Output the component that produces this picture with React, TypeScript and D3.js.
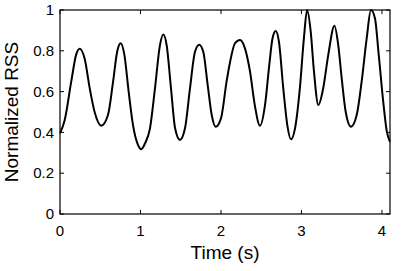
import React, { useRef, useEffect } from "react";
import * as d3 from "d3";

// time (s) and normalized RSS
const timeSec = [
  0, 0.058, 0.14, 0.2, 0.245, 0.307, 0.37, 0.43, 0.513, 0.596, 0.66, 0.71, 0.754, 0.8, 0.853, 0.907, 0.97, 1.01,
  1.056, 1.118, 1.18, 1.242, 1.283, 1.325, 1.379, 1.43, 1.49, 1.553, 1.615, 1.677, 1.73, 1.78, 1.835, 1.885, 1.934,
  2.0, 2.07, 2.11, 2.174, 2.236, 2.298, 2.36, 2.42, 2.484, 2.547, 2.6, 2.64, 2.68, 2.72, 2.774, 2.824, 2.87,
  2.92, 2.98, 3.03, 3.07, 3.115, 3.155, 3.21, 3.27, 3.333, 3.41, 3.457, 3.5, 3.55, 3.615, 3.686, 3.748, 3.81,
  3.863, 3.913, 3.96, 4.016, 4.058, 4.1,
];
const rss = [
  0.396, 0.46, 0.65, 0.78, 0.81, 0.76, 0.615, 0.5, 0.433, 0.485, 0.65, 0.795, 0.837, 0.78, 0.6, 0.436, 0.338, 0.318,
  0.346, 0.42, 0.616, 0.828, 0.88, 0.828, 0.616, 0.42, 0.363, 0.42, 0.616, 0.795, 0.83, 0.795, 0.632, 0.485, 0.428,
  0.469, 0.65, 0.739, 0.837, 0.853, 0.812, 0.7, 0.534, 0.433, 0.534, 0.73, 0.86, 0.897, 0.845, 0.616, 0.436, 0.366,
  0.42, 0.616, 0.86, 1.0, 0.894, 0.7, 0.534, 0.616, 0.78, 0.923, 0.828, 0.665, 0.5, 0.428, 0.485, 0.65, 0.86,
  1.0, 0.96, 0.78, 0.55, 0.41, 0.354,
];
const xTicks = [0, 1, 2, 3, 4];
const yTicks = [0, 0.2, 0.4, 0.6, 0.8, 1];

const W = 407;
const H = 271;
const margin = { top: 10, right: 17, bottom: 57, left: 60 };

export default function App() {
  const svgRef = useRef<SVGSVGElement>(null);

  useEffect(() => {
    const svg = d3.select(svgRef.current);
    svg.selectAll("*").remove();
    const iw = W - margin.left - margin.right;
    const ih = H - margin.top - margin.bottom;

    const x = d3.scaleLinear().domain([0, 4.1]).range([0, iw]);
    const y = d3.scaleLinear().domain([0, 1]).range([ih, 0]);

    const g = svg.append("g").attr("transform", `translate(${margin.left},${margin.top})`);
    const font = "'Liberation Sans', Arial, sans-serif";

    // inward ticks on all four sides, MATLAB style
    const tickLen = 4;
    xTicks.forEach((t) => {
      g.append("line").attr("x1", x(t)).attr("x2", x(t)).attr("y1", ih).attr("y2", ih - tickLen).attr("stroke", "#000");
      g.append("line").attr("x1", x(t)).attr("x2", x(t)).attr("y1", 0).attr("y2", tickLen).attr("stroke", "#000");
      g.append("text")
        .attr("x", x(t))
        .attr("y", ih + 22)
        .attr("text-anchor", "middle")
        .attr("font-family", font)
        .attr("font-size", 15)
        .text(String(t));
    });
    yTicks.forEach((t) => {
      g.append("line").attr("x1", 0).attr("x2", tickLen).attr("y1", y(t)).attr("y2", y(t)).attr("stroke", "#000");
      g.append("line").attr("x1", iw).attr("x2", iw - tickLen).attr("y1", y(t)).attr("y2", y(t)).attr("stroke", "#000");
      g.append("text")
        .attr("x", -6)
        .attr("y", y(t))
        .attr("dy", "0.35em")
        .attr("text-anchor", "end")
        .attr("font-family", font)
        .attr("font-size", 15)
        .text(String(t));
    });

    const line = d3
      .line<number>()
      .x((_, i) => x(timeSec[i]))
      .y((d) => y(d))
      .curve(d3.curveMonotoneX);

    g.append("path")
      .datum(rss)
      .attr("d", line)
      .attr("fill", "none")
      .attr("stroke", "#000")
      .attr("stroke-width", 2)
      .attr("stroke-linejoin", "round");

    g.append("rect")
      .attr("x", 0)
      .attr("y", 0)
      .attr("width", iw)
      .attr("height", ih)
      .attr("fill", "none")
      .attr("stroke", "#000")
      .attr("stroke-width", 1.2);

    svg.append("text")
      .attr("x", margin.left + iw / 2)
      .attr("y", 259)
      .attr("text-anchor", "middle")
      .attr("font-family", font)
      .attr("font-size", 19)
      .text("Time (s)");

    svg.append("text")
      .attr("transform", `translate(18,${margin.top + ih / 2}) rotate(-90)`)
      .attr("text-anchor", "middle")
      .attr("font-family", font)
      .attr("font-size", 19)
      .text("Normalized RSS");
  }, []);

  return (
    <svg
      ref={svgRef}
      width={W}
      height={H}
      style={{ position: "absolute", left: 0, top: 0, background: "#fff" }}
    />
  );
}
